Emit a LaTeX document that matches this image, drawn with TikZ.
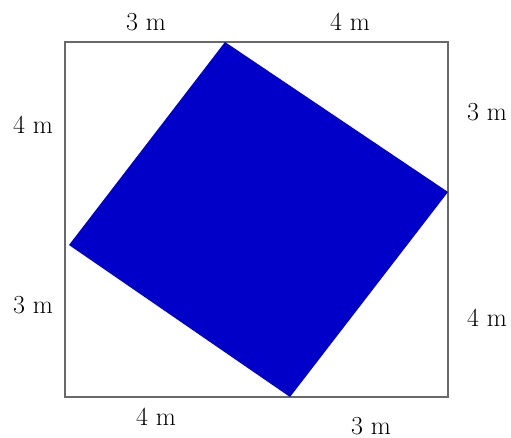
\documentclass[tikz,border=0pt]{standalone}
\begin{document}
\begin{tikzpicture}[x=1pt,y=-1pt,
  lbl/.style={inner sep=0pt,font=\fontsize{26}{30}\selectfont},
  frame/.style={draw={rgb,255:red,105;green,105;blue,105},line width=2pt},
  sq/.style={fill={rgb,255:red,0;green,0;blue,200},draw=none}]
\useasboundingbox (0,0) rectangle (511,438);
\coordinate (A) at (65,42);
\coordinate (B) at (448,42);
\coordinate (C) at (448,397);
\coordinate (D) at (65,397);
\coordinate (P) at (225,42);
\coordinate (Q) at (448,192);
\coordinate (R) at (290,397);
\coordinate (S) at (69,245);
\draw[frame] (A) -- (B) -- (C) -- (D) -- cycle;
\fill[sq] (P) -- (Q) -- (R) -- (S) -- cycle;
\node[lbl] (t1) at (146,22) {3 m};
\node[lbl] (t2) at (350,22) {4 m};
\node[lbl] (l1) at (33,125) {4 m};
\node[lbl] (l2) at (33,305) {3 m};
\node[lbl] (r1) at (487,112) {3 m};
\node[lbl] (r2) at (487,318) {4 m};
\node[lbl] (b1) at (156,417) {4 m};
\node[lbl] (b2) at (371,426) {3 m};
\end{tikzpicture}
\end{document}
